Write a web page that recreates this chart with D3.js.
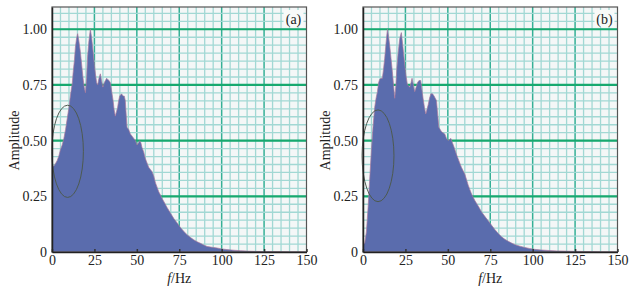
<!DOCTYPE html>
<html>
<head>
<meta charset="utf-8">
<script src="https://cdn.jsdelivr.net/npm/d3@7"></script>
<style>
  body { margin: 0; background: #ffffff; }
  svg { display: block; }
  text { font-family: "Liberation Serif", "Times New Roman", serif; }
</style>
</head>
<body>
<div id="chart"></div>
<script>
const width = 635, height = 287;

// spectrum (a)
const freqA = [0, 1.5, 3, 4, 5, 6, 7, 8, 9, 10, 11, 12, 12.4, 13.2, 13.8, 14.5, 15.1, 15.8, 16.7, 17.5, 18.3, 19, 19.7, 20.4, 21, 21.8, 22.6, 23.4, 24.2, 25, 25.6, 26.3, 26.9, 27.7, 28.5, 29.2, 30, 30.8, 31.5, 32.2, 32.8, 33.6, 34.4, 35.2, 36, 36.6, 37.3, 38, 38.7, 39.3, 39.9, 41, 41.9, 42.6, 43.2, 43.7, 44.2, 45.2, 46.2, 47.2, 48.2, 49.2, 50.1, 51, 51.7, 52.4, 53, 54, 55, 56, 57, 58, 59, 60, 61, 62, 62.9, 64, 64.9, 66.4, 67.8, 69.8, 71.8, 73.8, 75.7, 77.6, 79.6, 81.5, 83.5, 85.5, 87.5, 89.5, 91.4, 94.4, 97.3, 100, 103, 107, 111, 115, 119, 126, 133, 140, 150];
const ampA = [0.38, 0.39, 0.41, 0.43, 0.46, 0.48, 0.51, 0.55, 0.6, 0.65, 0.71, 0.76, 0.8, 0.86, 0.92, 0.96, 0.98, 0.95, 0.9, 0.84, 0.78, 0.74, 0.715, 0.78, 0.88, 0.95, 1.0, 0.96, 0.9, 0.84, 0.8, 0.76, 0.75, 0.78, 0.8, 0.77, 0.74, 0.76, 0.77, 0.78, 0.775, 0.77, 0.76, 0.72, 0.68, 0.64, 0.61, 0.63, 0.65, 0.68, 0.7, 0.71, 0.7, 0.7, 0.68, 0.62, 0.56, 0.55, 0.53, 0.52, 0.51, 0.5, 0.48, 0.49, 0.5, 0.49, 0.47, 0.45, 0.42, 0.4, 0.38, 0.37, 0.36, 0.34, 0.31, 0.29, 0.27, 0.255, 0.24, 0.22, 0.2, 0.175, 0.15, 0.13, 0.11, 0.093, 0.078, 0.066, 0.055, 0.046, 0.039, 0.031, 0.025, 0.021, 0.018, 0.014, 0.011, 0.008, 0.006, 0.004, 0.003, 0.002, 0.001, 0, 0];

// spectrum (b)
const freqB = [0, 1, 2, 3, 3.9, 4.9, 5.9, 6.9, 7.7, 8.5, 9.2, 9.8, 10.6, 11.4, 12.1, 12.8, 13.6, 14.4, 15, 15.7, 16.5, 17.3, 18, 18.7, 19.4, 20, 20.8, 21.7, 22.6, 23.4, 24.2, 25.2, 26.2, 27, 27.6, 28.3, 28.9, 29.7, 30.5, 31.3, 32.1, 33, 34, 34.7, 35.4, 36.2, 37, 37.7, 38.4, 39.2, 40, 41, 41.9, 42.6, 43.3, 44, 44.7, 45.5, 46.3, 47.2, 48.2, 49.2, 50.2, 51, 51.8, 52.7, 53.7, 55, 56, 57, 58, 59, 60, 61, 62, 63, 64, 65, 66, 68, 69.9, 71.8, 73.8, 75.8, 77.8, 79.7, 81.7, 83.6, 85.6, 87.6, 89.6, 92.5, 95.5, 98, 101, 105, 109, 114, 119, 125, 132, 140, 150];
const ampB = [0.03, 0.04, 0.09, 0.2, 0.32, 0.45, 0.56, 0.65, 0.69, 0.72, 0.76, 0.775, 0.78, 0.78, 0.82, 0.87, 0.94, 1.0, 0.97, 0.93, 0.87, 0.81, 0.75, 0.69, 0.75, 0.83, 0.9, 0.96, 0.985, 0.93, 0.87, 0.8, 0.75, 0.745, 0.74, 0.76, 0.78, 0.75, 0.72, 0.74, 0.76, 0.77, 0.77, 0.73, 0.69, 0.65, 0.62, 0.64, 0.66, 0.69, 0.71, 0.71, 0.7, 0.69, 0.68, 0.62, 0.56, 0.55, 0.54, 0.535, 0.53, 0.51, 0.5, 0.505, 0.51, 0.49, 0.47, 0.44, 0.42, 0.4, 0.38, 0.365, 0.35, 0.325, 0.3, 0.28, 0.26, 0.245, 0.23, 0.205, 0.18, 0.16, 0.14, 0.12, 0.1, 0.083, 0.068, 0.057, 0.048, 0.04, 0.033, 0.026, 0.02, 0.016, 0.012, 0.009, 0.007, 0.005, 0.004, 0.003, 0.002, 0, 0];

// marked region (centre Hz, centre amp, half-width Hz, half-height amp)
const ellipseA = [9.2, 0.452, 9.3, 0.207];
const ellipseB = [8.85, 0.432, 9.4, 0.206];

const xTicks = [0, 25, 50, 75, 100, 125, 150];
const yTicks = [0, 0.25, 0.5, 0.75, 1.0];
const yTickLabels = ["0", "0.25", "0.50", "0.75", "1.00"];
const panelLabels = ["(a)", "(b)"];

const svg = d3.select("#chart").append("svg")
    .attr("width", width)
    .attr("height", height);

function drawPanel(left, freq, amp, ell, label, id) {
    const plotW = 254.5, top = 7, bottom = 252;
    const x = d3.scaleLinear().domain([0, 150]).range([left, left + plotW]);
    const y = d3.scaleLinear().domain([0, 1.1]).range([bottom, top]);

    const g = svg.append("g");

    g.append("clipPath").attr("id", "clip" + id)
        .append("rect")
            .attr("x", left).attr("y", top)
            .attr("width", plotW).attr("height", bottom - top);

    const grid = g.append("g").attr("clip-path", `url(#clip${id})`);
    grid.append("rect")
        .attr("x", left).attr("y", top)
        .attr("width", plotW).attr("height", bottom - top)
        .attr("fill", "#f4f7f7");

    // graph-paper grid
    grid.selectAll(".vminor")
        .data(d3.range(5, 150, 5))
        .join("line")
            .attr("x1", d => x(d)).attr("x2", d => x(d))
            .attr("y1", top).attr("y2", bottom)
            .attr("stroke", d => d % 25 == 0 ? "#35b096" : "#a2d8d4")
            .attr("stroke-width", d => d % 25 == 0 ? 1.5 : 1.3);
    grid.selectAll(".hminor")
        .data(d3.range(0.25 / 7, 1.1, 0.25 / 7))
        .join("line")
            .attr("x1", left).attr("x2", left + plotW)
            .attr("y1", d => y(d)).attr("y2", d => y(d))
            .attr("stroke", "#a2d8d4")
            .attr("stroke-width", 1.3);
    grid.selectAll(".hmajor")
        .data(yTicks.slice(1))
        .join("line")
            .attr("x1", left).attr("x2", left + plotW)
            .attr("y1", d => y(d)).attr("y2", d => y(d))
            .attr("stroke", "#17a96f")
            .attr("stroke-width", 2.2);

    // spectrum
    const area = d3.area()
        .x((d, i) => x(freq[i]))
        .y0(y(0))
        .y1((d, i) => y(amp[i]));
    grid.append("path")
        .datum(amp)
        .attr("d", area)
        .attr("fill", "#5a6cad")
        .attr("stroke", "#a8789e")
        .attr("stroke-width", 0.7);

    // ellipse mark
    g.append("ellipse")
        .attr("cx", x(ell[0])).attr("cy", y(ell[1]))
        .attr("rx", x(ell[2]) - x(0)).attr("ry", y(0) - y(ell[3]))
        .attr("fill", "none")
        .attr("stroke", "#4d5a50")
        .attr("stroke-width", 1);

    // frame
    g.append("rect")
        .attr("x", left).attr("y", top)
        .attr("width", plotW).attr("height", bottom - top)
        .attr("fill", "none")
        .attr("stroke", "#555")
        .attr("stroke-width", 1.2);

    // axes
    g.append("g")
        .attr("transform", `translate(0,${bottom})`)
        .call(d3.axisBottom(x).tickValues(xTicks).tickSizeInner(-3).tickSizeOuter(0).tickPadding(3))
        .attr("font-family", "'Liberation Serif', serif")
        .attr("font-size", 14)
        .call(a => a.select(".domain").attr("stroke", "#222").attr("stroke-width", 1.5))
        .call(a => a.selectAll(".tick line").attr("stroke", "#333").attr("stroke-width", 1.5))
        .call(a => a.selectAll("text").attr("fill", "#222"));

    g.append("g")
        .attr("transform", `translate(${left},0)`)
        .call(d3.axisLeft(y).tickValues(yTicks).tickFormat((d, i) => yTickLabels[i]).tickSize(0).tickPadding(5))
        .attr("font-family", "'Liberation Serif', serif")
        .attr("font-size", 14)
        .call(a => a.select(".domain").attr("stroke", "#222").attr("stroke-width", 1.5))
        .call(a => a.selectAll("text").attr("fill", "#222"));

    // axis titles
    const xt = g.append("text")
        .attr("x", x(75)).attr("y", 283)
        .attr("text-anchor", "middle")
        .attr("font-size", 14)
        .attr("fill", "#222");
    xt.append("tspan").attr("font-style", "italic").text("f");
    xt.append("tspan").text("/Hz");

    g.append("text")
        .attr("transform", `translate(${left - 33},${(top + bottom) / 2 + 11}) rotate(-90)`)
        .attr("text-anchor", "middle")
        .attr("font-size", 14)
        .attr("fill", "#222")
        .text("Amplitude");

    // panel label
    g.append("rect")
        .attr("x", left + plotW - 23).attr("y", top + 3)
        .attr("width", 20).attr("height", 17)
        .attr("fill", "#f8faf9");
    g.append("text")
        .attr("x", left + plotW - 13).attr("y", top + 17)
        .attr("text-anchor", "middle")
        .attr("font-size", 14)
        .attr("fill", "#222")
        .text(label);
}

drawPanel(52, freqA, ampA, ellipseA, panelLabels[0], "a");
drawPanel(363, freqB, ampB, ellipseB, panelLabels[1], "b");
</script>
</body>
</html>
